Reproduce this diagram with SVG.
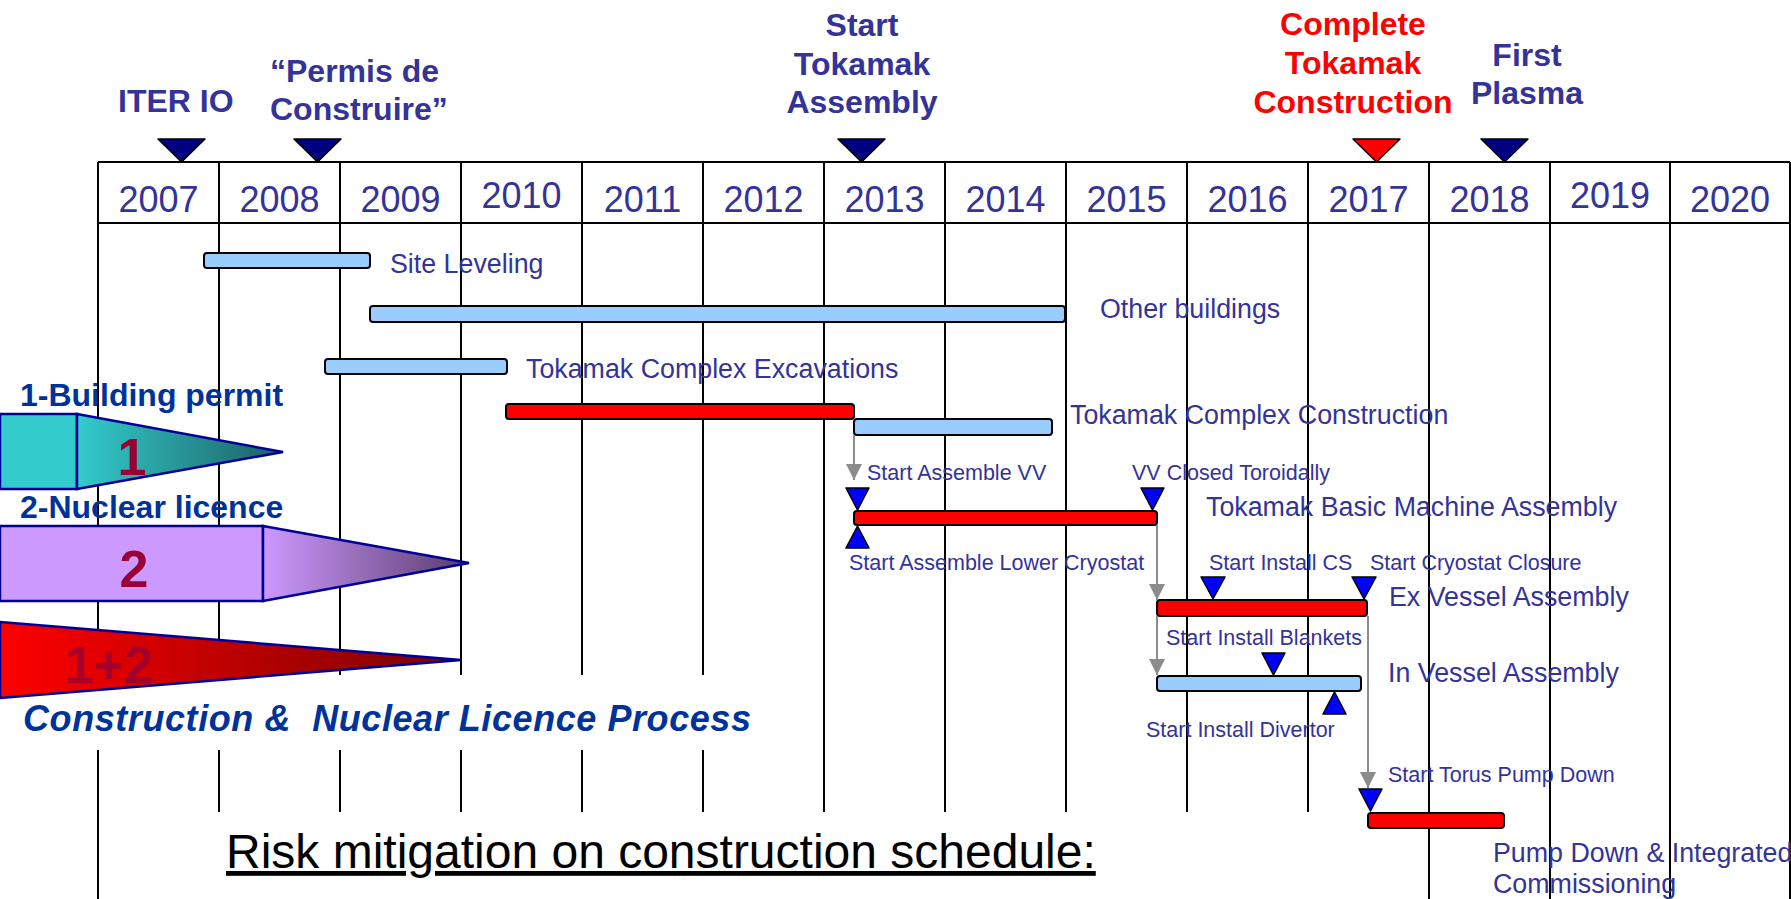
<svg xmlns="http://www.w3.org/2000/svg" width="1791" height="899" viewBox="0 0 1791 899">
  <style>
    .grid { stroke: #000; stroke-width: 2; fill: none; }
    .year { font-family: "Liberation Sans", Arial, sans-serif; font-size: 36px; fill: #333399; text-anchor: middle; }
    .ms { font-family: "Liberation Sans", Arial, sans-serif; font-size: 32px; font-weight: bold; fill: #333399; }
    .ms-red { fill: #FF0000; }
    .mk { fill: #000080; stroke: #000; stroke-width: 1.5; stroke-linejoin: round; }
    .mk-red { fill: #FF0000; }
    .bar-b { fill: #99CCFF; stroke: #000; stroke-width: 2; }
    .bar-r { fill: #FF0000; stroke: #000; stroke-width: 2; }
    .lbl { font-family: "Liberation Sans", Arial, sans-serif; font-size: 26.8px; fill: #333399; }
    .sm { font-family: "Liberation Sans", Arial, sans-serif; font-size: 21.5px; fill: #333399; }
    .tri { fill: #0000FF; stroke: #000; stroke-width: 1.5; stroke-linejoin: round; }
    .link { stroke: #8C8C8C; stroke-width: 2; fill: none; marker-end: url(#arrow); }
    .phase { stroke: #000099; stroke-width: 2.5; stroke-linejoin: miter; }
    .ph-title { font-family: "Liberation Sans", Arial, sans-serif; font-size: 32px; font-weight: bold; fill: #003399; }
    .ph-num { font-family: "Liberation Sans", Arial, sans-serif; font-size: 52px; font-weight: bold; fill: #990033; text-anchor: middle; }
  </style>
  <defs>
    <marker id="arrow" markerUnits="userSpaceOnUse" markerWidth="16" markerHeight="16" refX="16" refY="8" orient="auto">
      <path d="M0,0 L16,8 L0,16 z" fill="#8C8C8C"/>
    </marker>
    <linearGradient id="gTeal" gradientUnits="userSpaceOnUse" x1="77" y1="0" x2="283" y2="0">
      <stop offset="0" stop-color="#33CCCC"/>
      <stop offset="1" stop-color="#1C5E62"/>
    </linearGradient>
    <linearGradient id="gLilac" gradientUnits="userSpaceOnUse" x1="263" y1="0" x2="469" y2="0">
      <stop offset="0" stop-color="#CC99FF"/>
      <stop offset="1" stop-color="#5A3C6A"/>
    </linearGradient>
    <linearGradient id="gRed" gradientUnits="userSpaceOnUse" x1="0" y1="0" x2="461" y2="0">
      <stop offset="0" stop-color="#FF0000"/>
      <stop offset="1" stop-color="#7A0000"/>
    </linearGradient>
  </defs>

  <rect width="1791" height="899" fill="#FFFFFF"/>

  <!-- year grid -->
  <g id="grid" class="grid">
    <line x1="98" y1="162" x2="1790" y2="162"/>
    <line x1="98" y1="223" x2="1790" y2="223"/>
    <path d="M98,162 V675 M98,750 V899"/>
    <path d="M219,162 V675 M219,750 V812"/>
    <path d="M340,162 V675 M340,750 V812"/>
    <path d="M461,162 V675 M461,750 V812"/>
    <path d="M582,162 V675 M582,750 V812"/>
    <path d="M703,162 V675 M703,750 V812"/>
    <path d="M824,162 V812"/>
    <path d="M945,162 V812"/>
    <path d="M1066,162 V812"/>
    <path d="M1187,162 V812"/>
    <path d="M1308,162 V812"/>
    <path d="M1429,162 V899"/>
    <path d="M1550,162 V899"/>
    <path d="M1670,162 V899"/>
    <path d="M1790,162 V899"/>
  </g>

  <g id="years">
    <text class="year" x="158.5" y="212">2007</text>
    <text class="year" x="279.5" y="212">2008</text>
    <text class="year" x="400.5" y="212">2009</text>
    <text class="year" x="521.5" y="208">2010</text>
    <text class="year" x="642.5" y="212">2011</text>
    <text class="year" x="763.5" y="212">2012</text>
    <text class="year" x="884.5" y="212">2013</text>
    <text class="year" x="1005.5" y="212">2014</text>
    <text class="year" x="1126.5" y="212">2015</text>
    <text class="year" x="1247.5" y="212">2016</text>
    <text class="year" x="1368.5" y="212">2017</text>
    <text class="year" x="1489.5" y="212">2018</text>
    <text class="year" x="1610" y="208">2019</text>
    <text class="year" x="1730" y="212">2020</text>
  </g>

  <!-- key milestones above the timeline -->
  <g id="ms-iter-io">
    <polygon class="mk" points="158,139 205,139 181.5,162"/>
    <text class="ms" x="118" y="112">ITER IO</text>
  </g>
  <g id="ms-permis">
    <polygon class="mk" points="294,139 341,139 317.5,162"/>
    <text class="ms" x="270" y="82">“Permis de</text>
    <text class="ms" x="270" y="120">Construire”</text>
  </g>
  <g id="ms-start-assembly">
    <polygon class="mk" points="838,139 885,139 861.5,162"/>
    <text class="ms" text-anchor="middle" x="862" y="36">Start</text>
    <text class="ms" text-anchor="middle" x="862" y="75">Tokamak</text>
    <text class="ms" text-anchor="middle" x="862" y="113">Assembly</text>
  </g>
  <g id="ms-complete">
    <polygon class="mk mk-red" points="1353,139 1400,139 1376.5,162"/>
    <text class="ms ms-red" text-anchor="middle" x="1353" y="35">Complete</text>
    <text class="ms ms-red" text-anchor="middle" x="1353" y="74">Tokamak</text>
    <text class="ms ms-red" text-anchor="middle" x="1353" y="113">Construction</text>
  </g>
  <g id="ms-first-plasma">
    <polygon class="mk" points="1481,139 1528,139 1504.5,162"/>
    <text class="ms" text-anchor="middle" x="1527" y="66">First</text>
    <text class="ms" text-anchor="middle" x="1527" y="104">Plasma</text>
  </g>

  <!-- licensing process arrows -->
  <g id="phase-1">
    <rect class="phase" x="0" y="414" width="77" height="75" fill="#33CCCC"/>
    <polygon class="phase" points="77,414 283,452 77,489" fill="url(#gTeal)"/>
    <text class="ph-title" x="20" y="406">1-Building permit</text>
    <text class="ph-num" x="132" y="475">1</text>
  </g>
  <g id="phase-2">
    <rect class="phase" x="0" y="526" width="263" height="75" fill="#CC99FF"/>
    <polygon class="phase" points="263,526 469,563 263,601" fill="url(#gLilac)"/>
    <text class="ph-title" x="20" y="518">2-Nuclear licence</text>
    <text class="ph-num" x="134" y="587">2</text>
  </g>
  <g id="phase-1-2">
    <polygon class="phase" points="0,622 461,660 0,698" fill="url(#gRed)"/>
    <text class="ph-num" x="109" y="683" fill-opacity="0.85">1+2</text>
    <text x="23" y="731" font-family="'Liberation Sans', Arial, sans-serif" font-size="36" font-weight="bold" font-style="italic" fill="#003399" textLength="728" lengthAdjust="spacing" xml:space="preserve">Construction &amp;  Nuclear Licence Process</text>
  </g>

  <!-- activity bars -->
  <g id="site-leveling">
    <rect class="bar-b" x="204" y="253" width="166" height="15" rx="3"/>
    <text class="lbl" x="390" y="273">Site Leveling</text>
  </g>
  <g id="other-buildings">
    <rect class="bar-b" x="370" y="306" width="695" height="16" rx="3"/>
    <text class="lbl" x="1100" y="318">Other buildings</text>
  </g>
  <g id="excavations">
    <rect class="bar-b" x="325" y="359" width="182" height="15" rx="3"/>
    <text class="lbl" x="526" y="378">Tokamak Complex Excavations</text>
  </g>
  <g id="complex-construction">
    <rect class="bar-r" x="506" y="404" width="348" height="15" rx="3"/>
    <rect class="bar-b" x="854" y="419" width="198" height="16" rx="3"/>
    <text class="lbl" x="1070" y="424">Tokamak Complex Construction</text>
  </g>
  <g id="basic-machine">
    <rect class="bar-r" x="854" y="511" width="303" height="14" rx="3"/>
    <polygon class="tri" points="846,488 869,488 857.5,510"/>
    <polygon class="tri" points="857.5,526 846,548 869,548"/>
    <polygon class="tri" points="1141,488 1164,488 1152.5,510"/>
    <text class="sm" x="867" y="480">Start Assemble VV</text>
    <text class="sm" x="1132" y="480">VV Closed Toroidally</text>
    <text class="sm" x="849" y="570">Start Assemble Lower Cryostat</text>
    <text class="lbl" x="1206" y="516">Tokamak Basic Machine Assembly</text>
  </g>
  <g id="ex-vessel">
    <rect class="bar-r" x="1157" y="600" width="210" height="16" rx="3"/>
    <polygon class="tri" points="1201,577 1225,577 1213,599"/>
    <polygon class="tri" points="1352,577 1376,577 1364,599"/>
    <text class="sm" x="1209" y="570">Start Install CS</text>
    <text class="sm" x="1370" y="570">Start Cryostat Closure</text>
    <text class="lbl" x="1389" y="606">Ex Vessel Assembly</text>
  </g>
  <g id="in-vessel">
    <rect class="bar-b" x="1157" y="676" width="204" height="15" rx="3"/>
    <polygon class="tri" points="1262,653 1285,653 1273.5,675"/>
    <polygon class="tri" points="1334.5,692 1323,714 1346,714"/>
    <text class="sm" x="1166" y="645">Start Install Blankets</text>
    <text class="sm" x="1146" y="737">Start Install Divertor</text>
    <text class="lbl" x="1388" y="682">In Vessel Assembly</text>
  </g>
  <g id="pump-down">
    <rect class="bar-r" x="1368" y="813" width="136" height="15" rx="3"/>
    <polygon class="tri" points="1359,789 1382,789 1370.5,811"/>
    <text class="sm" x="1388" y="782">Start Torus Pump Down</text>
    <text class="lbl" x="1493" y="862">Pump Down &amp; Integrated</text>
    <text class="lbl" x="1493" y="893">Commissioning</text>
  </g>

  <!-- dependency links -->
  <g id="connectors">
    <line class="link" x1="854" y1="435" x2="854" y2="480"/>
    <line class="link" x1="1157" y1="525" x2="1157" y2="600"/>
    <line class="link" x1="1157" y1="616" x2="1157" y2="675"/>
    <line class="link" x1="1368" y1="616" x2="1368" y2="788"/>
  </g>

  <g id="caption">
    <text x="226" y="868" font-family="'Liberation Sans', Arial, sans-serif" font-size="48" fill="#000" text-decoration="underline">Risk mitigation on construction schedule:</text>
  </g>
</svg>
